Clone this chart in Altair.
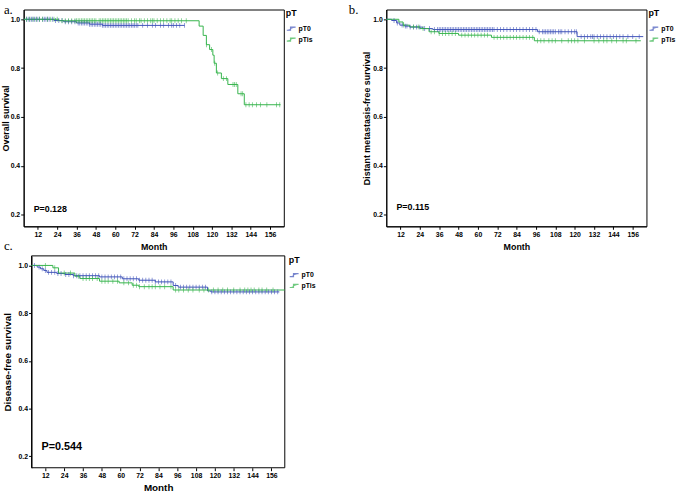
import altair as alt
import numpy as np
import pandas as pd

BLUE = "#3f52b9"
GREEN = "#35b44b"
GROUPS = ["pT0", "pTis"]
X_DOMAIN = [3.2, 164.5]
Y_DOMAIN = [0.152, 1.04]
MONTH_TICKS = list(range(12, 157, 12))
SURV_TICKS = [0.2, 0.4, 0.6, 0.8, 1.0]

# ---- a. Overall survival -------------------------------------------------
a_pt0_month = [3.2, 22, 28, 36, 44, 52, 103]
a_pt0_surv = [1.0, 0.995, 0.99, 0.985, 0.98, 0.975, 0.975]
a_pt0_cens = [5, 6, 7, 8, 9, 10, 11, 12, 13, 15, 16, 17, 18, 19, 21, 23, 25, 27, 29,
              31, 33, 35, 37, 38, 39, 40, 41, 42, 43, 44, 45, 46, 47, 48, 49, 50, 51,
              52, 53, 54, 55, 56, 57, 58, 59, 60, 61, 62, 63, 64, 65, 66, 67, 68, 69,
              70, 71, 72, 73, 74, 77, 80, 83, 85, 88, 90, 93, 95, 96, 98, 100, 103]

a_ptis_month = [3.2, 25, 112, 114.5, 116.5, 118.5, 120.5, 121.3, 122.7, 125.8, 129.8,
                136, 140, 162.5]
a_ptis_surv = [1.0, 0.994, 0.972, 0.934, 0.896, 0.876, 0.853, 0.82, 0.78, 0.757, 0.733,
               0.695, 0.65, 0.65]
a_ptis_cens = [5, 7, 9, 11, 13, 15, 18, 20, 22, 24, 27, 29, 31, 33, 35, 36, 37, 38, 39,
               40, 41, 42, 43, 44, 45, 46, 47, 48, 50, 51, 52, 53, 54, 55, 56, 57, 58,
               59, 60, 61, 62, 63, 64, 65, 66, 67, 68, 70, 72, 73, 75, 76, 78, 80, 82,
               83, 84, 86, 88, 90, 92, 94, 95, 97, 99, 101, 104, 116.5, 119.7, 121.7,
               123.5, 127, 129, 133, 134, 135, 138, 139, 141, 143, 145, 147.6, 150, 154,
               160, 162]

# ---- b. Distant metastasis-free survival ---------------------------------
b_pt0_month = [3.2, 6.5, 9.6, 11.6, 14.6, 17.7, 25.8, 32, 97, 121.5, 162.5]
b_pt0_surv = [1.0, 0.995, 0.985, 0.976, 0.972, 0.968, 0.962, 0.958, 0.949, 0.929, 0.929]
b_pt0_cens = [8, 10, 13, 15, 16, 18, 20, 22, 24, 27, 30, 33, 35, 36, 37, 38, 39, 40, 41,
              42, 43, 44, 45, 46, 47, 48, 49, 50, 51, 52, 53, 54, 55, 56, 57, 58, 59, 60,
              61, 62, 63, 64, 65, 66, 67, 68, 69, 70, 72, 74, 76, 78, 80, 82, 84, 86, 88,
              90, 92, 94, 96, 98, 100, 101, 102, 103, 104, 105, 106, 107, 108, 110, 111,
              112, 114, 116, 118, 120, 121, 124, 126, 128, 130, 131, 132, 134, 136, 138,
              140, 142, 144, 146, 148, 150, 153, 156, 160]

b_ptis_month = [3.2, 11, 13.6, 17.7, 24, 29.7, 35.8, 48, 68.4, 95, 161]
b_ptis_surv = [1.0, 0.989, 0.976, 0.969, 0.962, 0.949, 0.942, 0.935, 0.926, 0.912, 0.912]
b_ptis_cens = [14, 20, 23, 26, 31, 33, 36, 38, 40, 42, 44, 46, 50, 52, 54, 56, 58, 60, 62,
               64, 66, 70, 72, 74, 76, 78, 80, 82, 84, 86, 88, 90, 92, 94, 97, 99, 101,
               104, 106, 108, 112, 116, 118, 120, 122, 126, 132, 135, 138, 140, 143, 146,
               150, 152, 158]

# ---- c. Disease-free survival --------------------------------------------
c_pt0_month = [3.2, 6.8, 8.9, 11, 13, 19.3, 24.5, 29.7, 46.5, 61, 71.5, 82, 93.4, 96.6,
               115.3, 117.4, 161]
c_pt0_surv = [1.0, 0.993, 0.986, 0.979, 0.971, 0.966, 0.962, 0.957, 0.952, 0.944, 0.938,
              0.931, 0.916, 0.909, 0.893, 0.889, 0.889]
c_pt0_cens = [5, 8, 10, 12, 14, 16, 18, 20, 22, 25, 27, 30, 32, 34, 36, 38, 40, 42, 44, 46,
              48, 50, 52, 54, 56, 58, 60, 62, 64, 66, 68, 70, 72, 74, 76, 78, 80, 82, 84,
              86, 88, 90, 92, 95, 98, 100, 102, 104, 106, 108, 110, 112, 114, 118, 120,
              122, 124, 126, 128, 130, 132, 134, 136, 138, 140, 142, 144, 146, 148, 150,
              152, 154, 156, 158, 160]

c_ptis_month = [3.2, 16.8, 20.4, 30.8, 34, 46.5, 59, 67.3, 71.5, 93.4, 164.4]
c_ptis_surv = [1.0, 0.99, 0.968, 0.955, 0.945, 0.934, 0.927, 0.917, 0.911, 0.897, 0.897]
c_ptis_cens = [12, 18, 24, 28, 33, 36, 38, 40, 42, 45, 48, 50, 52, 55, 58, 62, 65, 68, 70,
               72, 75, 78, 80, 82, 85, 88, 92, 95, 97, 100, 103, 106, 110, 113, 116, 119,
               122, 125, 128, 132, 136, 139, 141, 143, 145, 148, 150, 153, 157]


def steps(month, surv, group):
    return pd.DataFrame({"month": month, "surv": surv, "group": group})


def censored(month, surv, cens, group):
    # censored subjects sit on the curve value in force at their time
    idx = np.searchsorted(np.array(month), np.array(cens), side="right") - 1
    return pd.DataFrame({"month": cens, "surv": np.array(surv)[idx], "group": group})


def panel(ytitle, curves, ptext, pmonth, psurv, pfont, w, h, title_size, title_pad,
          month_pad, letters, inset=0):
    """One Kaplan-Meier panel. `inset` moves the framed plot box right inside the view."""
    step_df = pd.concat([steps(m, s, g) for m, s, c, g in curves], ignore_index=True)
    cens_df = pd.concat([censored(m, s, c, g) for m, s, c, g in curves], ignore_index=True)

    x_scale = alt.Scale(domain=X_DOMAIN, nice=False, zero=False)
    x_axis = alt.Axis(values=MONTH_TICKS, title="Month", titleFontSize=title_size,
                      titlePadding=month_pad)
    y_axis = alt.Axis(values=SURV_TICKS, format=".1f", title=ytitle,
                      titleFontSize=title_size, titlePadding=title_pad)
    if inset:
        x_scale = alt.Scale(domain=X_DOMAIN, nice=False, zero=False, range=[inset, w])
        x_axis = alt.Axis(values=MONTH_TICKS, title="Month", titleFontSize=title_size,
                          titlePadding=month_pad, domain=False)
        y_axis = alt.Axis(values=SURV_TICKS, format=".1f", title=ytitle,
                          titleFontSize=title_size, titlePadding=title_pad, offset=-inset)
    x = alt.X("month:Q", scale=x_scale, axis=x_axis)
    y = alt.Y("surv:Q", scale=alt.Scale(domain=Y_DOMAIN, nice=False, zero=False), axis=y_axis)
    color = alt.Color("group:N",
                      scale=alt.Scale(domain=GROUPS, range=[BLUE, GREEN]),
                      legend=alt.Legend(title="pT", symbolType="M-1,0.35H-0.15V-0.35H1",
                                        symbolStrokeWidth=1.2, symbolSize=80,
                                        symbolFillColor="transparent"))

    lines = alt.Chart(step_df).mark_line(interpolate="step-after", strokeWidth=1).encode(
        x=x, y=y, color=color)
    ticks = alt.Chart(cens_df).mark_tick(orient="vertical", size=5, thickness=0.8).encode(
        x=x, y=y, color=color)
    ptxt = alt.Chart(pd.DataFrame({"month": [pmonth], "surv": [psurv], "t": [ptext]})).mark_text(
        align="left", baseline="middle", fontWeight="bold", fontSize=pfont,
        font="Liberation Sans", color="black").encode(x=x, y=y, text="t:N")
    layers = [lines, ticks, ptxt]
    if inset:
        frame = alt.Chart(pd.DataFrame({"k": [0]})).mark_rect(
            fillOpacity=0, stroke="black", strokeWidth=1).encode(
            x=alt.value(inset), x2=alt.value(w), y=alt.value(0), y2=alt.value(h))
        layers.insert(0, frame)
    # panel letters, positioned in pixels relative to the plot's top-left corner
    for text, px, py in letters:
        layers.append(alt.Chart(pd.DataFrame({"t": [text]})).mark_text(
            align="left", baseline="alphabetic", font="Liberation Serif", fontSize=13,
            color="black").encode(x=alt.value(px), y=alt.value(py), text="t:N"))
    out = alt.layer(*layers).properties(width=w, height=h)
    if inset:
        out = out.properties(view=alt.ViewConfig(strokeOpacity=0))
    return out


pa = panel("Overall survival",
           [(a_pt0_month, a_pt0_surv, a_pt0_cens, "pT0"),
            (a_ptis_month, a_ptis_surv, a_ptis_cens, "pTis")],
           "P=0.128", 9.4, 0.222, 9, 264, 220, 9, 0, 6,
           [("a.", -20, 5), ("c.", -20, 244)])
pb = panel("Distant metastasis-free survival",
           [(b_pt0_month, b_pt0_surv, b_pt0_cens, "pT0"),
            (b_ptis_month, b_ptis_surv, b_ptis_cens, "pTis")],
           "P=0.115", 9.5, 0.232, 9, 264, 220, 9, 1, 6,
           [("b.", -38, 5)])
pc = panel("Disease-free survival",
           [(c_pt0_month, c_pt0_surv, c_pt0_cens, "pT0"),
            (c_ptis_month, c_ptis_surv, c_ptis_cens, "pTis")],
           "P=0.544", 9.5, 0.239, 11, 265, 215, 10, 6, 4,
           [], inset=8)

chart = alt.concat(
    pa, pb, pc, columns=2, spacing={"row": 1, "column": 32},
).resolve_scale(color="independent", x="independent", y="independent").properties(
    padding={"left": 0, "top": 0, "right": 0, "bottom": 0}
).configure_view(stroke="black", strokeWidth=1).configure_axis(
    domainColor="black", tickColor="black", tickSize=3, grid=False,
    labelFont="Liberation Sans", labelFontSize=7, labelFontWeight="bold", labelColor="black",
    titleFont="Liberation Sans", titleFontWeight="bold", titleColor="black", labelPadding=1,
).configure_legend(
    titleFont="Liberation Sans", titleFontSize=9, titleFontWeight="bold", titleColor="black",
    labelFont="Liberation Sans", labelFontSize=7, labelFontWeight="bold", labelColor="black",
    offset=2, padding=0, rowPadding=1, symbolOffset=0, labelOffset=2,
)

chart.save("out.html", embed_options={"renderer": "svg", "actions": False})
